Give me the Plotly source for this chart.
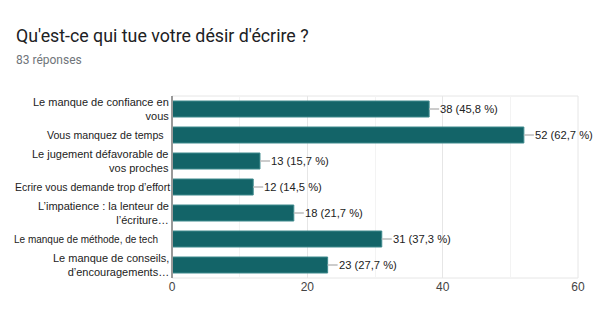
import plotly.graph_objects as go

categories = [
    "Le manque de confiance en<br>vous",
    "Vous manquez de temps",
    "Le jugement défavorable de<br>vos proches",
    "Ecrire vous demande trop d’effort",
    "L’impatience : la lenteur de<br>l’écriture…",
    "Le manque de méthode, de tech",
    "Le manque de conseils,<br>d’encouragements…",
]
label_sizes = [11, 10.6, 11, 10.5, 11, 10.0, 11]
label_shift = [-1, -6, -1, 0, -1, -12, -1]
counts = [38, 52, 13, 12, 18, 31, 23]
percents = ["45,8", "62,7", "15,7", "14,5", "21,7", "37,3", "27,7"]
x_ticks = [0, 20, 40, 60]

ids = list(range(len(categories)))
bar_color = "#136468"
FONT = "Liberation Sans, Arial"

fig = go.Figure()
fig.add_trace(go.Bar(
    x=counts, y=ids, orientation="h",
    marker=dict(color=bar_color, line=dict(color="#3f8a8d", width=1)),
    hoverinfo="skip",
))

annotations = []
shapes = []
for i, (c, p, lab, fs, sh) in enumerate(zip(counts, percents, categories, label_sizes, label_shift)):
    annotations.append(dict(
        x=c, y=i, xref="x", yref="y", text=f"{c} ({p} %)",
        showarrow=False, xanchor="left", xshift=9,
        font=dict(family=FONT, size=11.2, color="#222"),
    ))
    shapes.append(dict(
        type="line", xref="x", yref="y", xsizemode="pixel", xanchor=c,
        x0=0, x1=10, y0=i, y1=i,
        line=dict(color="#bbbbbb", width=1.5),
    ))
    annotations.append(dict(
        x=0, y=i, xref="x domain", yref="y", text=lab,
        showarrow=False, xanchor="right", align="right", xshift=sh,
        font=dict(family=FONT, size=fs, color="#222"),
    ))

W, H = 602.0, 324.0
L, R, T, B = 172, 24, 96, 46
pw, ph = W - L - R, H - T - B

annotations.append(dict(
    x=(14 - L) / pw, xref="paper", y=1 + (T - 35) / ph, yref="paper",
    xanchor="left", yanchor="middle", showarrow=False,
    text="Qu'est-ce qui tue votre désir d'écrire ?",
    font=dict(family="Roboto", size=17.8, color="#202124"),
))
annotations.append(dict(
    x=(14 - L) / pw, xref="paper", y=1 + (T - 60) / ph, yref="paper",
    xanchor="left", yanchor="middle", showarrow=False,
    text="83 réponses",
    font=dict(family="Roboto", size=12, color="#70757a"),
))

shapes.append(dict(type="rect", xref="paper", yref="paper", x0=0, x1=1, y0=0, y1=1,
                   line=dict(color="#e6e6e6", width=1), layer="below"))
shapes.append(dict(type="line", xref="paper", yref="paper", x0=0, x1=0, y0=0, y1=1,
                   line=dict(color="#999999", width=2)))

fig.update_layout(
    width=602, height=324,
    margin=dict(l=L, r=R, t=T, b=B),
    paper_bgcolor="white", plot_bgcolor="white",
    showlegend=False,
    bargap=0.385,
    shapes=shapes,
    annotations=annotations,
    xaxis=dict(
        range=[0, 60], tickvals=x_ticks, ticktext=[str(v) for v in x_ticks],
        showgrid=True, gridcolor="#e6e6e6", gridwidth=1,
        minor=dict(dtick=10, showgrid=True, gridcolor="#f3f3f3"),
        zeroline=False, showline=False, ticks="",
        tickfont=dict(family=FONT, size=12, color="#444"),
        fixedrange=True,
    ),
    yaxis=dict(
        range=[len(categories) - 0.5, -0.5], tickvals=ids, showticklabels=False,
        showgrid=False, zeroline=False, showline=False, fixedrange=True,
    ),
)

fig.write_html("out.html")
